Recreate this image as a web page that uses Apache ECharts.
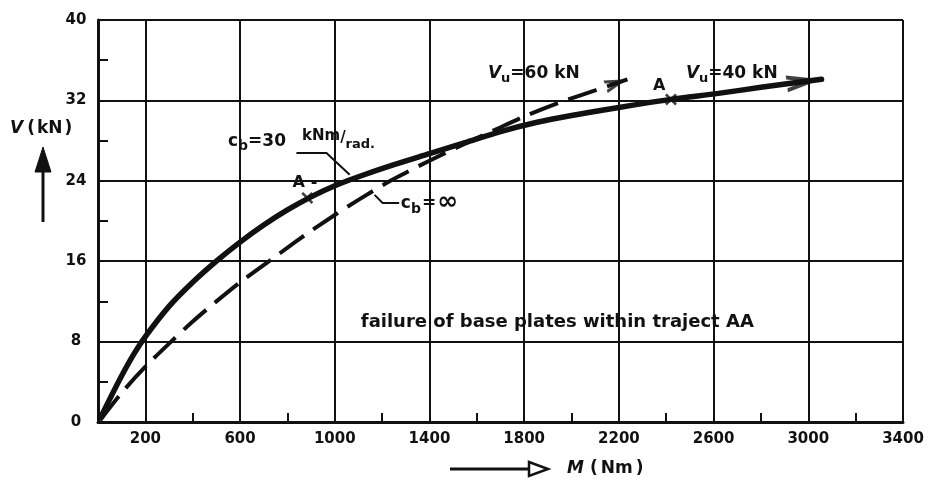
<!DOCTYPE html>
<html><head><meta charset="utf-8">
<script src="https://cdn.jsdelivr.net/npm/echarts@6/dist/echarts.min.js"></script>
<style>html,body{margin:0;padding:0;background:#fff}#c{width:930px;height:482px}</style>
</head><body><div id="c"></div>
<script>
// ---------------- data ----------------
const xTickLabels = [200, 600, 1000, 1400, 1800, 2200, 2600, 3000, 3400];
const yTickLabels = [0, 8, 16, 24, 32, 40];
// c_b = 30 kNm/rad, V_u = 40 kN (solid)
const solidCb30 = [[10,0.4],[50,2.3],[100,4.6],[150,6.7],[200,8.5],[300,11.5],[400,13.9],[500,16.0],[600,17.9],[700,19.6],[800,21.1],[900,22.4],[1000,23.5],[1100,24.4],[1250,25.6],[1400,26.7],[1550,27.8],[1700,28.9],[1850,29.8],[2000,30.5],[2200,31.3],[2420,32.1],[2620,32.7],[2800,33.3],[3056,34.1]];
// c_b = infinity, V_u = 60 kN (dashed)
const dashedCbInf = [[10,0.2],[100,2.9],[200,5.5],[300,7.8],[400,10.0],[500,12.0],[600,13.9],[723,16.0],[850,18.2],[1000,20.6],[1100,22.1],[1220,23.8],[1300,24.8],[1400,26.0],[1550,27.7],[1670,29.0],[1810,30.5],[1950,31.8],[2100,33.0],[2236,34.1]];
// points A on the solid curve
const pointsA = [[884,22.3],[2420,32.1]];

// ---------------- styling ----------------
const INK = '#111';
const FF = '"DejaVu Sans", sans-serif';
const CHEV = 'path://M7,0 L7,0 Z M0,60 L7,30 L14,60 L10.6,60 L7,44.6 L3.4,60 Z';
const XMARK = 'path://M0,1.5 L1.5,0 L5,3.5 L8.5,0 L10,1.5 L6.5,5 L10,8.5 L8.5,10 L5,6.5 L1.5,10 L0,8.5 L3.5,5 Z';

const chart = echarts.init(document.getElementById('c'), null, {renderer: 'canvas'});

const option = {
  backgroundColor: '#fff',
  animation: false,
  grid: {left: 98, right: 27, top: 20, bottom: 60},
  xAxis: {
    type: 'value', min: 0, max: 3400, interval: 200,
    axisLine: {show: true, onZero: false, lineStyle: {color: INK, width: 3}},
    axisTick: {show: true, inside: true, length: 9, lineStyle: {color: INK, width: 2}},
    axisLabel: {margin: 10, color: INK, fontFamily: FF, fontWeight: 'bold', fontSize: 15,
      formatter: v => xTickLabels.indexOf(v) >= 0 ? String(v) : ''},
    splitLine: {show: true, lineStyle: {color: ['rgba(0,0,0,0)', INK], width: 2}}
  },
  yAxis: {
    type: 'value', min: 0, max: 40, interval: 4,
    axisLine: {show: true, onZero: false, lineStyle: {color: INK, width: 3}},
    axisTick: {show: true, inside: true, length: 10, lineStyle: {color: INK, width: 2}},
    axisLabel: {margin: 22, align: 'center', color: INK, fontFamily: FF, fontWeight: 'bold', fontSize: 15,
      formatter: v => yTickLabels.indexOf(v) >= 0 ? String(v) : ''},
    splitLine: {show: true, lineStyle: {color: [INK, 'rgba(0,0,0,0)'], width: 2}}
  },
  series: [
    {id: 'solid', type: 'line', data: solidCb30, smooth: 0.3, symbol: 'none', z: 5,
      lineStyle: {color: INK, width: 5.5, cap: 'round'}},
    {id: 'dashed', type: 'line', data: dashedCbInf, smooth: 0.3, symbol: 'none', z: 4,
      lineStyle: {color: INK, width: 4, type: [30, 11], cap: 'butt'}},
    {id: 'markA', type: 'scatter', data: pointsA, symbol: XMARK, symbolSize: 12, z: 6,
      itemStyle: {color: INK}},
    {id: 'arrows', type: 'scatter', data: [], z: 6, itemStyle: {color: INK}}
  ]
};
chart.setOption(option);

// ---------------- annotations ----------------
const P = p => chart.convertToPixel({xAxisIndex: 0, yAxisIndex: 0}, p);
const mctx = document.createElement('canvas').getContext('2d');
function fontOf(s, it) { return (it ? 'italic ' : '') + 'bold ' + s + 'px ' + FF; }
function tw(t, s, it) { mctx.font = fontOf(s, it); return mctx.measureText(t).width; }
function run(x0, yMid, parts) {
  let x = x0; const out = [];
  parts.forEach(p => {
    out.push({type: 'text', x: x, y: yMid + (p.dy || 0), z: 10,
      style: {text: p.t, font: fontOf(p.s, p.it), fill: INK, align: 'left', verticalAlign: 'middle'}});
    x += tw(p.t, p.s, p.it) + (p.gap || 0);
  });
  return out;
}
function poly(pts, w) {
  return {type: 'polyline', z: 10, shape: {points: pts}, style: {stroke: INK, lineWidth: w || 2, fill: null}};
}

const labels = [
  {at: [549, 27.9], parts: [{t:'c',s:17},{t:'b',s:14,dy:5},{t:'=30',s:17,gap:16},{t:'kNm',s:15,dy:-5},{t:'/',s:15,dy:-3},{t:'rad.',s:13,dy:3}]},
  {at: [1279, 21.7], parts: [{t:'c',s:17},{t:'b',s:14,dy:5,gap:1},{t:'=',s:17,gap:1},{t:'∞',s:25,dy:-1}]},
  {at: [1647, 34.7], parts: [{t:'V',s:17,it:true},{t:'u',s:13,dy:5},{t:'=60 kN',s:17}]},
  {at: [2483, 34.7], parts: [{t:'V',s:17,it:true},{t:'u',s:13,dy:5},{t:'=40 kN',s:17}]},
  {at: [821, 23.8], parts: [{t:'A',s:16,gap:6},{t:'-',s:16}]},
  {at: [2344, 33.4], parts: [{t:'A',s:16}]}
];
const leaders = [
  [[838, 26.76], [965, 26.76], [1063, 24.6]],
  [[1168, 22.6], [1202, 21.8], [1272, 21.8]]
];

const g = [];
labels.forEach(l => { const p = P(l.at); g.push(...run(p[0], p[1], l.parts)); });
leaders.forEach(ld => g.push(poly(ld.map(P), 2)));
{
  const p = P([1940, 9.9]);
  g.push({type: 'text', x: p[0], y: p[1], z: 10, style: {text: 'failure of base plates within traject AA',
    font: fontOf(18), fill: INK, align: 'center', verticalAlign: 'middle'}});
}
// axis titles with arrows
g.push(...run(10, 129, [{t:'V',s:17,it:true,gap:4},{t:'(',s:17,gap:2},{t:'kN',s:17,gap:2},{t:')',s:17}]));
g.push({type: 'line', shape: {x1: 43, y1: 222, x2: 43, y2: 165}, style: {stroke: INK, lineWidth: 3}});
g.push({type: 'polygon', shape: {points: [[43,147],[35,172],[51,172]]}, style: {fill: INK, stroke: INK, lineWidth: 1}});
g.push({type: 'line', shape: {x1: 450, y1: 469, x2: 530, y2: 469}, style: {stroke: INK, lineWidth: 3}});
g.push({type: 'polygon', shape: {points: [[529,462],[548,469],[529,476]]}, style: {fill: '#fff', stroke: INK, lineWidth: 2.5}});
g.push(...run(567, 469, [{t:'M',s:17,it:true,gap:6},{t:'(',s:17,gap:3},{t:'Nm',s:17,gap:3},{t:')',s:17}]));

// arrowheads at curve ends, oriented along the curve
function arrowItem(arr, size) {
  const a = P(arr[arr.length - 2]), b = P(arr[arr.length - 1]);
  const ang = Math.atan2(-(b[1] - a[1]), b[0] - a[0]) * 180 / Math.PI;
  return {value: arr[arr.length - 1], symbol: CHEV, symbolSize: size, symbolRotate: ang - 90};
}
chart.setOption({
  graphic: g,
  series: [{id: 'arrows', data: [arrowItem(solidCb30, [17, 70]), arrowItem(dashedCbInf, [13, 46])]}]
});
</script></body></html>
